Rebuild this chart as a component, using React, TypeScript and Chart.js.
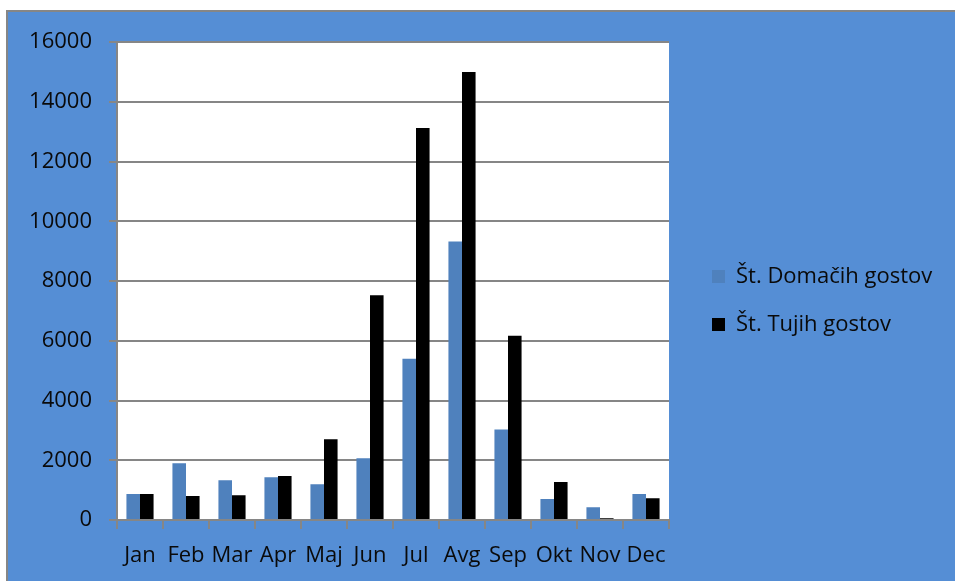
import React, { useEffect, useRef } from 'react';
import { Chart, registerables } from 'chart.js';

Chart.register(...registerables);

const months = ['Jan', 'Feb', 'Mar', 'Apr', 'Maj', 'Jun', 'Jul', 'Avg', 'Sep', 'Okt', 'Nov', 'Dec'];
const domaciGostje = [870, 1900, 1330, 1430, 1200, 2070, 5400, 9330, 3030, 700, 430, 870];
const tujiGostje = [870, 800, 830, 1470, 2700, 7530, 13130, 15000, 6170, 1270, 60, 730];
const seriesNames = ['Št. Domačih gostov', 'Št. Tujih gostov'];
const yMin = 0;
const yMax = 16000;
const yStep = 2000;

const CANVAS_W = 947;
const CANVAS_H = 569;
const AXIS_GRAY = '#868686';
const BG_BLUE = '#558ED5';
const FONT = "'Open Sans', 'Liberation Sans', sans-serif";

const LEGEND_WIDTH = 286;
const LEGEND_DX = 17;
const LEGEND_DY = -10;

const plotBackground = {
  id: 'plotBackground',
  beforeDraw(chart: any) {
    const { ctx, chartArea } = chart;
    if (!chartArea) return;
    ctx.save();
    ctx.fillStyle = '#ffffff';
    ctx.fillRect(chartArea.left, chartArea.top, chartArea.right - chartArea.left, chartArea.bottom - chartArea.top);
    ctx.restore();
  },
};

const legendPatch = {
  id: 'legendPatch',
  afterInit(chart: any) {
    const lg = chart.legend;
    if (!lg || lg.__patched) return;
    lg.__patched = true;
    const origFit = lg.fit;
    lg.fit = function () {
      origFit.call(this);
      this.width = LEGEND_WIDTH;
    };
    const origDraw = lg.draw;
    lg.draw = function (...args: any[]) {
      this.left += LEGEND_DX;
      this.right += LEGEND_DX;
      this.top += LEGEND_DY;
      this.bottom += LEGEND_DY;
      origDraw.apply(this, args);
      this.left -= LEGEND_DX;
      this.right -= LEGEND_DX;
      this.top -= LEGEND_DY;
      this.bottom -= LEGEND_DY;
    };
  },
};

export default function App() {
  const canvasRef = useRef<HTMLCanvasElement | null>(null);

  useEffect(() => {
    if (!canvasRef.current) return;
    Chart.defaults.font.family = FONT;
    Chart.defaults.font.size = 22;
    Chart.defaults.color = '#000000';
    const chart = new Chart(canvasRef.current, {
      type: 'bar',
      data: {
        labels: months,
        datasets: [
          {
            label: seriesNames[0],
            data: domaciGostje,
            backgroundColor: '#4F81BD',
            borderWidth: 0,
            categoryPercentage: 0.59,
            barPercentage: 1.0,
          },
          {
            label: seriesNames[1],
            data: tujiGostje,
            backgroundColor: '#000000',
            borderWidth: 0,
            categoryPercentage: 0.59,
            barPercentage: 1.0,
          },
        ],
      },
      options: {
        responsive: false,
        animation: false,
        devicePixelRatio: 1,
        layout: { padding: { top: 28, left: 0, right: 0, bottom: 0 } },
        plugins: {
          title: { display: false },
          tooltip: { enabled: false },
          legend: {
            display: true,
            position: 'right',
            labels: {
              boxWidth: 13,
              boxHeight: 13,
              padding: 26,
              color: '#0a0a0a',
              font: { family: FONT, size: 22 },
            },
          },
        },
        scales: {
          x: {
            offset: true,
            grid: {
              display: true,
              offset: true,
              drawOnChartArea: false,
              drawTicks: true,
              tickLength: 9,
              color: AXIS_GRAY,
              lineWidth: 2,
            },
            border: { display: true, color: AXIS_GRAY, width: 2 },
            ticks: {
              color: '#0a0a0a',
              font: { family: FONT, size: 22 },
              padding: 14,
              maxRotation: 0,
              autoSkip: false,
            },
            afterFit(scale: any) {
              scale.height = 61;
            },
          },
          y: {
            min: yMin,
            max: yMax,
            grid: {
              color: AXIS_GRAY,
              lineWidth: 2,
              drawTicks: true,
              tickLength: 8,
            },
            border: { display: true, color: AXIS_GRAY, width: 2 },
            ticks: {
              stepSize: yStep,
              color: '#0a0a0a',
              font: { family: FONT, size: 22 },
              padding: 17,
              callback: (v: any) => String(v),
            },
            afterFit(scale: any) {
              scale.width = 109;
            },
          },
        },
      },
      plugins: [plotBackground, legendPatch],
    } as any);
    return () => {
      chart.destroy();
    };
  }, []);

  return (
    <div
      style={{
        position: 'absolute',
        left: 6,
        top: 10,
        width: CANVAS_W + 2,
        height: CANVAS_H + 2,
        boxSizing: 'border-box',
        borderTop: `2px solid ${AXIS_GRAY}`,
        borderLeft: `2px solid ${AXIS_GRAY}`,
        background: BG_BLUE,
      }}
    >
      <canvas ref={canvasRef} width={CANVAS_W} height={CANVAS_H} style={{ display: 'block', width: CANVAS_W, height: CANVAS_H }} />
    </div>
  );
}
